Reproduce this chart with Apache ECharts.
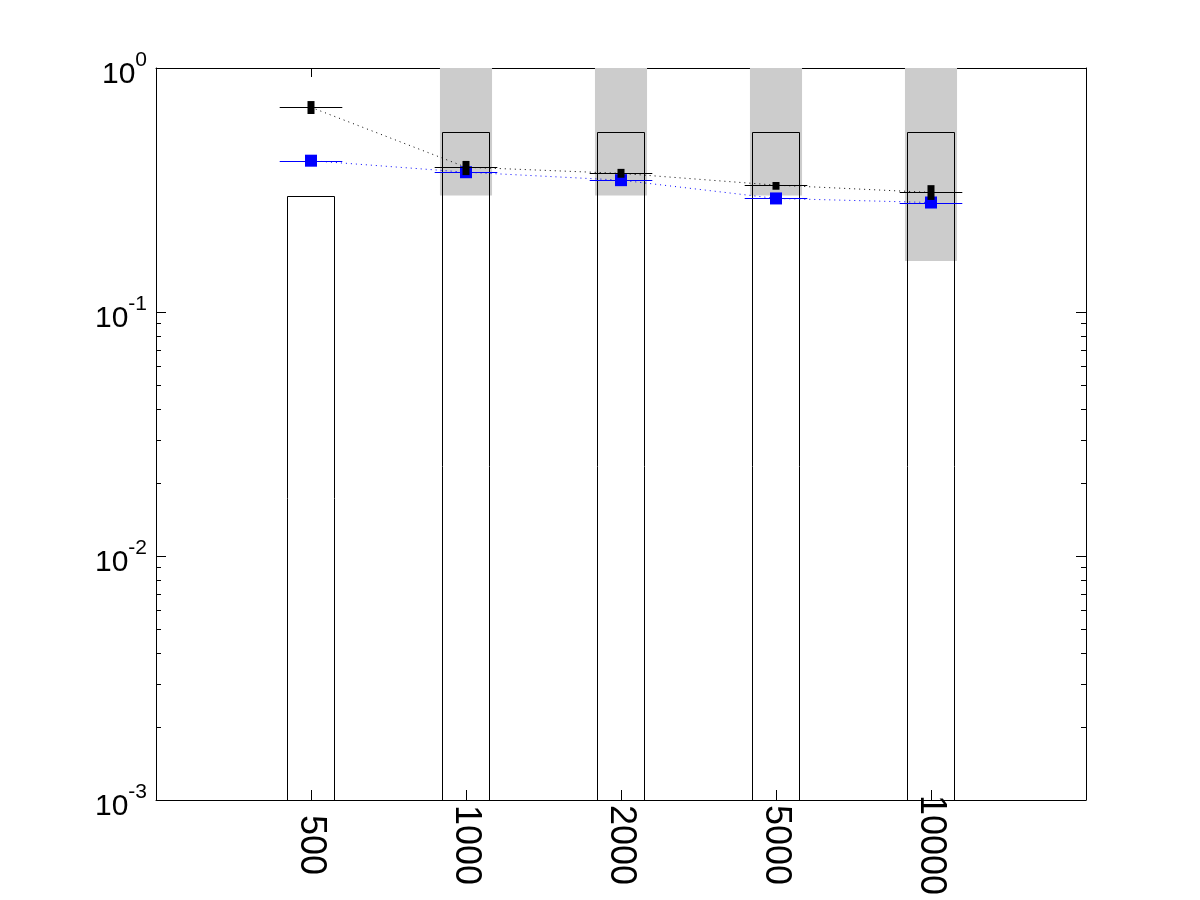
<!DOCTYPE html>
<html>
<head>
<meta charset="utf-8">
<script src="https://cdn.jsdelivr.net/npm/echarts@6/dist/echarts.min.js"></script>
<style>
  html, body { margin: 0; padding: 0; background: #fff; }
  #chart { width: 1200px; height: 900px; }
</style>
</head>
<body>
<div id="chart"></div>
<script>
// ---- data ----
var categories = ['500', '1000', '2000', '5000', '10000'];
var barValues = [0.30, 0.546, 0.546, 0.546, 0.546];
var bandLow = [null, 0.30, 0.30, 0.30, 0.162];
var bandHigh = [null, 1, 1, 1, 1];
var blackMean = [0.690, 0.392, 0.370, 0.331, 0.309];
var blackLow = [0.648, 0.364, 0.355, 0.317, 0.288];
var blackHigh = [0.732, 0.416, 0.386, 0.341, 0.331];
var blueMean = [0.417, 0.374, 0.347, 0.292, 0.281];
var yMin = 0.001, yMax = 1;
var minorTickValues = [0.002, 0.003, 0.004, 0.005, 0.006, 0.007, 0.008, 0.009,
                       0.02, 0.03, 0.04, 0.05, 0.06, 0.07, 0.08, 0.09];

var FONT = 'Liberation Sans';
var chart = echarts.init(document.getElementById('chart'), null, { renderer: 'canvas' });

function xy(arr) { return arr.map(function (v, i) { return [i + 1, v]; }); }

var bandData = [];
bandLow.forEach(function (lo, i) { if (lo != null) bandData.push([i + 1, lo, bandHigh[i]]); });
var barData = barValues.map(function (v, i) { return [i + 1, v]; });
var blackErr = blackMean.map(function (v, i) { return [i + 1, v, blackLow[i], blackHigh[i]]; });
var blueErr = xy(blueMean);

var axisLineStyle = { color: '#000', width: 1 };

var option = {
  backgroundColor: '#fff',
  animation: false,
  grid: { left: 156, top: 68, width: 930, height: 732, containLabel: false },
  xAxis: [{
    type: 'value', min: 0, max: 6, interval: 1, position: 'bottom',
    axisLine: { show: true, onZero: false, lineStyle: axisLineStyle },
    axisTick: { show: true, inside: true, length: 10, lineStyle: axisLineStyle },
    splitLine: { show: false },
    axisLabel: {
      formatter: function (v) { return categories[v - 1] || ''; },
      rotate: -90, align: 'center', verticalAlign: 'middle', margin: 45,
      fontSize: 36, fontFamily: FONT, color: '#000'
    }
  }, {
    type: 'value', min: 0, max: 6, interval: 1, position: 'top',
    axisLine: { show: true, onZero: false, lineStyle: axisLineStyle },
    axisTick: { show: true, inside: true, length: 9, lineStyle: axisLineStyle },
    splitLine: { show: false },
    axisLabel: { show: false }
  }],
  yAxis: [{
    type: 'log', logBase: 10, min: yMin, max: yMax, position: 'left',
    axisLine: { show: true, onZero: false, lineStyle: axisLineStyle },
    axisTick: { show: true, inside: true, length: 10, lineStyle: axisLineStyle },
    splitLine: { show: false },
    axisLabel: {
      margin: 9,
      padding: [4, 0, 0, 0],
      formatter: function (v) { return '{b|10}{s|' + Math.round(Math.log10(v)) + '}'; },
      rich: {
        b: { fontSize: 30, fontFamily: FONT, color: '#000', lineHeight: 40, verticalAlign: 'bottom' },
        s: { fontSize: 21, fontFamily: FONT, color: '#000', lineHeight: 40, verticalAlign: 'top' }
      }
    }
  }, {
    type: 'log', logBase: 10, min: yMin, max: yMax, position: 'right',
    axisLine: { show: true, onZero: false, lineStyle: axisLineStyle },
    axisTick: { show: true, inside: true, length: 10, lineStyle: axisLineStyle },
    splitLine: { show: false },
    axisLabel: { show: false }
  }],
  series: [
    {
      name: 'band', type: 'custom', z: 1, data: bandData,
      renderItem: function (params, api) {
        var x = api.value(0);
        var p1 = api.coord([x - 0.168, api.value(2)]);
        var p2 = api.coord([x + 0.168, api.value(1)]);
        return { type: 'rect', shape: { x: p1[0], y: p1[1], width: p2[0] - p1[0], height: p2[1] - p1[1] },
                 style: { fill: '#cccccc' } };
      }
    },
    {
      name: 'bars', type: 'custom', z: 2, data: barData,
      renderItem: function (params, api) {
        var x = api.value(0);
        var p1 = api.coord([x - 0.152, api.value(1)]);
        var p2 = api.coord([x + 0.152, yMin]);
        return { type: 'rect', shape: { x: Math.round(p1[0]) + 0.5, y: Math.round(p1[1]) + 0.5,
                 width: Math.round(p2[0] - p1[0]), height: Math.round(p2[1] - p1[1]) },
                 style: { fill: 'none', stroke: '#000', lineWidth: 1 } };
      }
    },
    {
      name: 'minorTicks', type: 'custom', z: 3, data: minorTickValues.map(function (v) { return [1, v]; }),
      renderItem: function (params, api) {
        var cs = params.coordSys;
        var y = Math.round(api.coord([1, api.value(1)])[1]) + 0.5;
        return { type: 'group', children: [
          { type: 'line', shape: { x1: cs.x, y1: y, x2: cs.x + 5, y2: y }, style: { stroke: '#000', lineWidth: 1 } },
          { type: 'line', shape: { x1: cs.x + cs.width - 5, y1: y, x2: cs.x + cs.width, y2: y }, style: { stroke: '#000', lineWidth: 1 } }
        ]};
      }
    },
    {
      name: 'blueLine', type: 'line', z: 4, data: xy(blueMean), symbol: 'none',
      lineStyle: { color: '#0000ff', width: 1, type: [1, 4] }
    },
    {
      name: 'blackLine', type: 'line', z: 4, data: xy(blackMean), symbol: 'none',
      lineStyle: { color: '#000', width: 1, type: [1, 4] }
    },
    {
      name: 'blueMarks', type: 'custom', z: 5, data: blueErr,
      renderItem: function (params, api) {
        var x = api.value(0), v = api.value(1);
        var c = api.coord([x, v]);
        var l = api.coord([x - 0.202, v]);
        var r = api.coord([x + 0.202, v]);
        var y = Math.round(c[1]) + 0.5;
        return { type: 'group', children: [
          { type: 'line', shape: { x1: l[0], y1: y, x2: r[0], y2: y }, style: { stroke: '#0000ff', lineWidth: 1 } },
          { type: 'rect', shape: { x: c[0] - 6, y: c[1] - 6, width: 12, height: 12 }, style: { fill: '#0000ff' } }
        ]};
      }
    },
    {
      name: 'blackMarks', type: 'custom', z: 6, data: blackErr,
      renderItem: function (params, api) {
        var x = api.value(0), v = api.value(1);
        var c = api.coord([x, v]);
        var l = api.coord([x - 0.202, v]);
        var r = api.coord([x + 0.202, v]);
        var lo = api.coord([x, api.value(2)]);
        var hi = api.coord([x, api.value(3)]);
        var y = Math.round(c[1]) + 0.5;
        return { type: 'group', children: [
          { type: 'line', shape: { x1: l[0], y1: y, x2: r[0], y2: y }, style: { stroke: '#000', lineWidth: 1 } },
          { type: 'rect', shape: { x: c[0] - 3.5, y: hi[1], width: 7, height: lo[1] - hi[1] }, style: { fill: '#000' } }
        ]};
      }
    }
  ]
};
chart.setOption(option);
</script>
</body>
</html>
